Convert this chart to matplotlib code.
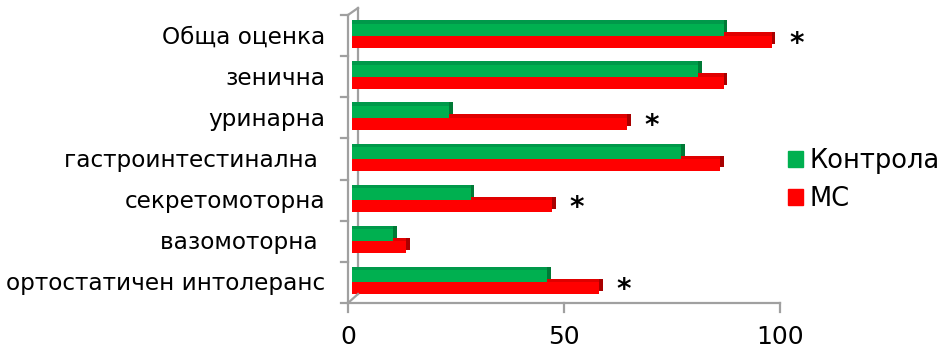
import matplotlib
matplotlib.use("Agg")
import matplotlib.pyplot as plt
from matplotlib.transforms import ScaledTranslation
from matplotlib.patches import Patch
from matplotlib.lines import Line2D

# Categories from bottom to top
categories = ["ортостатичен интолеранс", "вазомоторна ", "секретомоторна",
              "гастроинтестинална ", "уринарна", "зенична", "Обща оценка"]
control = [45.2, 9.6, 27.5, 76.2, 22.5, 80.1, 86.1]
ms = [57.2, 12.5, 46.3, 85.2, 63.7, 86.1, 97.2]
significant = [True, False, True, False, True, False, True]
series_names = ["Контрола", "МС"]
x_ticks = [0, 50, 100]

W, H, DPI = 946, 352, 100
fig = plt.figure(figsize=(W / DPI, H / DPI), dpi=DPI)
plt.rcParams['font.family'] = ['DejaVu Sans']

# plot plane (pixel geometry)
x0_px, x1_px = 352, 784
top_px, bot_px = 15, 303
ax = fig.add_axes([x0_px / W, (H - bot_px) / H, (x1_px - x0_px) / W, (bot_px - top_px) / H])
ax.set_xlim(0, 100)
ax.set_ylim(-0.5, len(categories) - 0.5)
ax.axis("off")

def px_off(dx, dy):
    return ax.transData + ScaledTranslation(dx / DPI, dy / DPI, fig.dpi_scale_trans)

green, green_top, green_side = "#00B050", "#00994A", "#007A36"
red, red_top, red_side = "#FF0000", "#E00000", "#A80000"
bh = 0.29
depth = 3.5
ys = range(len(categories))

for vals, yoff, c, ct, cs in [(ms, -bh / 2, red, red_top, red_side),
                              (control, bh / 2, green, green_top, green_side)]:
    ypos = [y + yoff for y in ys]
    ax.barh(ypos, vals, height=bh, color=cs, transform=px_off(depth, depth), zorder=2)
    ax.barh(ypos, vals, height=bh, color=ct, transform=px_off(0, depth), zorder=2.1)
    ax.barh(ypos, vals, height=bh, color=c, zorder=2.2)

# significance marks
for y, v, s in zip(ys, ms, significant):
    if s:
        ax.text(v + 5.7, y, "*", fontsize=20, fontweight="bold", ha="center",
                va="center", color="black", zorder=3,
                transform=px_off(0, -8))

# axis frame drawn in pixel space
gray = "#A0A0A0"
def fig_line(xs, ys_, **kw):
    fig.add_artist(Line2D([x / W for x in xs], [(H - y) / H for y in ys_],
                          transform=fig.transFigure, color=gray, lw=1.6, **kw))

front_x = 348
back_x = 358
fig_line([front_x, front_x], [top_px, bot_px])
fig_line([back_x, back_x], [top_px - 7, bot_px - 9], zorder=0)
fig_line([front_x, back_x], [top_px, top_px - 7])
fig_line([front_x, back_x], [bot_px, bot_px - 9])
step = (bot_px - top_px) / len(categories)
for k in range(len(categories) + 1):
    yk = top_px + k * step
    fig_line([front_x - 7, front_x], [yk, yk])

# value axis on the floor
px_per_unit = (x1_px - x0_px) / 100
fig_line([front_x, front_x + 100 * px_per_unit], [bot_px, bot_px])
for t in x_ticks:
    xt = front_x + t * px_per_unit
    fig_line([xt, xt], [bot_px, bot_px + 9])
    fig.text(xt / W, (H - 337.5) / H, str(t), fontsize=18, ha="center", va="center")

# category labels
for k, name in enumerate(categories):
    yc = bot_px - (k + 0.5) * step
    fig.text(325 / W, (H - yc - 8) / H, name, fontsize=16.7, ha="right", va="baseline")

handles = [Patch(color=green), Patch(color=red)]
fig.legend(handles, series_names, loc="upper left", bbox_to_anchor=(788 / W, (H - 148) / H),
           frameon=False, fontsize=18.5, handlelength=0.58, handleheight=0.58,
           handletextpad=0.27, labelspacing=0.47, borderpad=0, borderaxespad=0)

fig.savefig("out.png", dpi=DPI)
